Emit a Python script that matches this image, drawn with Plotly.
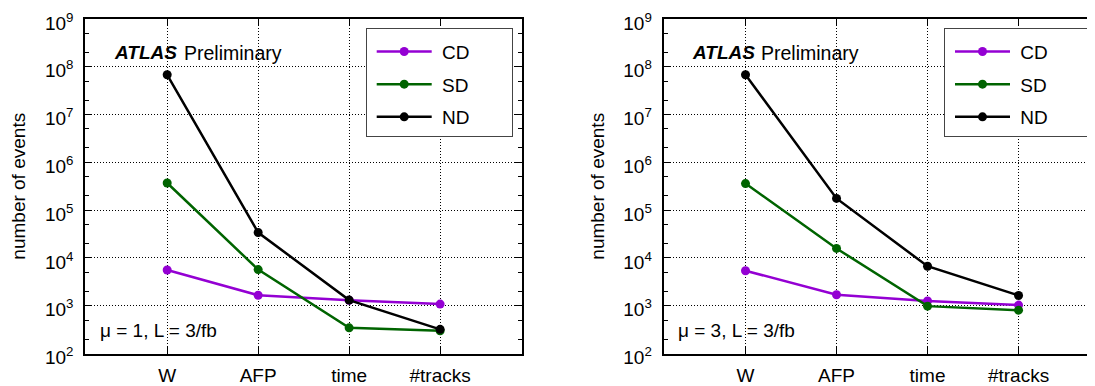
import plotly.graph_objects as go

# ---------------- data ----------------
categories = ["W", "AFP", "time", "#tracks"]
series_names = ["CD", "SD", "ND"]
series_colors = ["#9400d3", "#006400", "#000000"]

# left panel: mu = 1, L = 3/fb
cd_mu1 = [5600, 1660, 1300, 1080]
sd_mu1 = [370000, 5700, 344, 300]
nd_mu1 = [68000000, 34000, 1310, 320]

# right panel: mu = 3, L = 3/fb
cd_mu3 = [5400, 1700, 1260, 1030]
sd_mu3 = [360000, 15800, 980, 807]
nd_mu3 = [68000000, 176000, 6700, 1640]

ytick_vals = [1e2, 1e3, 1e4, 1e5, 1e6, 1e7, 1e8, 1e9]
ytick_text = ["10<sup>%d</sup>" % e for e in range(2, 10)]

panel_labels = ["\u03bc = 1, L = 3/fb", "\u03bc = 3, L = 3/fb"]
y_title = "number of events"

FONT = "Liberation Sans, Arial, Helvetica, sans-serif"
FS = 19

fig = go.Figure()

panels = [
    ("x", "y", "legend", [cd_mu1, sd_mu1, nd_mu1]),
    ("x2", "y2", "legend2", [cd_mu3, sd_mu3, nd_mu3]),
]
for xa, ya, lg, values in panels:
    for name, color, vals in zip(series_names, series_colors, values):
        fig.add_trace(go.Scatter(
            x=categories, y=vals, name="\u00a0" + name + "\u00a0" * 7,
            mode="lines+markers",
            line=dict(color=color, width=2.5),
            marker=dict(color=color, size=9, symbol="circle"),
            xaxis=xa, yaxis=ya, legend=lg, legendgroup=lg + name,
        ))

# page body adds an 8px offset; figure is sized to fill the remaining window
OFF = 8
W, H = 1095 - OFF, 386 - OFF


def px_x(v):
    return (v - OFF) / W


def px_y(v):
    return 1 - (v - OFF) / H


ydom = [px_y(353.5), px_y(19)]
x1dom = [px_x(85.3), px_x(522)]
x2dom = [px_x(663.6), 1.0]

xcommon = dict(
    type="category", automargin=False,
    showline=True, linecolor="black", linewidth=2, mirror="ticks",
    ticks="inside", ticklen=7, tickwidth=1, tickcolor="black",
    showgrid=True, gridcolor="black", gridwidth=1, griddash="1px,2px",
    tickfont=dict(family=FONT, size=FS, color="black"),
    zeroline=False, ticklabelstandoff=4, ticklabeloverflow="allow",
)
ycommon = dict(
    type="log", range=[2, 9], automargin=False,
    tickvals=ytick_vals, ticktext=ytick_text,
    showline=True, linecolor="black", linewidth=2, mirror="ticks",
    ticks="inside", ticklen=7, tickwidth=1, tickcolor="black",
    showgrid=True, gridcolor="black", gridwidth=1, griddash="1px,2px",
    minor=dict(dtick="D2", ticks="inside", ticklen=4, tickwidth=1,
               tickcolor="black", showgrid=False),
    tickfont=dict(family=FONT, size=FS, color="black"),
    zeroline=False, ticklabelstandoff=6, ticklabeloverflow="allow",
    ticklabelshift=4,
    title=dict(text=y_title, font=dict(family=FONT, size=FS, color="black"),
               standoff=14),
)

fig.update_layout(
    width=W, height=H,
    margin=dict(l=0, r=0, t=0, b=0, autoexpand=False),
    paper_bgcolor="white", plot_bgcolor="white",
    font=dict(family=FONT, size=FS, color="black"),
    xaxis=dict(domain=x1dom, anchor="y", range=[-0.9, 3.9], **xcommon),
    yaxis=dict(domain=ydom, anchor="x", **ycommon),
    xaxis2=dict(domain=x2dom, anchor="y2", range=[-0.9, 3.84], **xcommon),
    yaxis2=dict(domain=ydom, anchor="x2", **ycommon),
    showlegend=True,
)

leg_common = dict(
    xanchor="left", yanchor="top",
    bgcolor="white", bordercolor="#444444", borderwidth=1,
    font=dict(family=FONT, size=FS, color="black"),
    itemwidth=55, tracegroupgap=5, indentation=5,
    title=dict(text="\u00a0", font=dict(size=3)),
)
fig.update_layout(
    legend=dict(x=px_x(365.7), y=px_y(27.7), **leg_common),
    legend2=dict(x=px_x(944), y=px_y(27.7), **leg_common),
)

for xa, txt in [("x", panel_labels[0]), ("x2", panel_labels[1])]:
    fig.add_annotation(xref=xa + " domain", yref="y domain", x=0.062, y=0.899,
                       text="<b><i>ATLAS</i></b>", showarrow=False,
                       xanchor="left", yanchor="middle",
                       font=dict(family=FONT, size=FS, color="black"))
    fig.add_annotation(xref=xa + " domain", yref="y domain", x=0.222, y=0.899,
                       text="Preliminary", showarrow=False,
                       xanchor="left", yanchor="middle",
                       font=dict(family=FONT, size=FS + 0.5, color="black"))
    fig.add_annotation(xref=xa + " domain", yref="y domain", x=0.029, y=0.07,
                       text=txt, showarrow=False,
                       xanchor="left", yanchor="middle",
                       font=dict(family=FONT, size=FS, color="black"))

fig.write_html("out.html")
